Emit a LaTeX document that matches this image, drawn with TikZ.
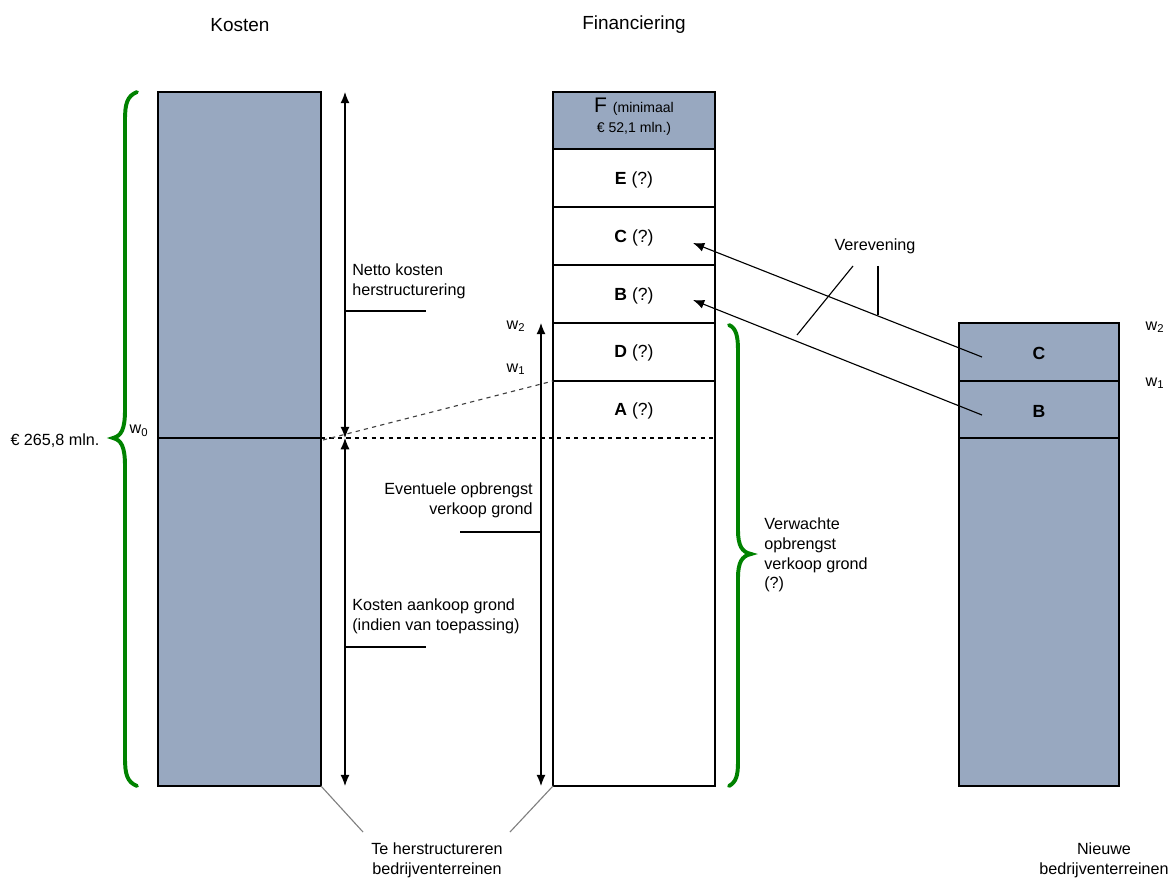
\documentclass[tikz,border=0pt]{standalone}
\usepackage{fontspec}
\setmainfont{Liberation Sans}
\usetikzlibrary{arrows.meta}

\definecolor{kostblauw}{RGB}{152,168,192}
\definecolor{haakgroen}{RGB}{0,130,0}

\newcommand{\tekst}{\fontsize{11.5}{14}\selectfont}

\tikzset{
  lijn/.style={line width=0.8pt},
  grijslijn/.style={line width=0.8pt, gray},
  pijl/.style={line width=0.8pt, -{Latex[length=8pt,width=6.5pt]}},
  dubbelpijl/.style={line width=0.8pt, {Latex[length=8pt,width=6.5pt]}-{Latex[length=8pt,width=6.5pt]}},
  haak/.style={line width=2.8pt, haakgroen, line cap=round},
  kop/.style={font=\fontsize{13.5}{16}\selectfont, inner sep=0pt},
  lbl/.style={font=\tekst, inner sep=0pt},
  rij/.style={font=\fontsize{12.5}{15}\selectfont, inner sep=0pt},
  wlbl/.style={font=\fontsize{11.5}{13}\selectfont, inner sep=0pt}
}

\begin{document}
\begin{tikzpicture}[x=0.025cm,y=-0.025cm]
    \useasboundingbox (0,0) rectangle (1170,879);

    % kopjes
    \node[kop] (kopK) at (240,25) {Kosten};
    \node[kop] (kopF) at (634,25) {Financiering};

    % kosten
    \draw[lijn,fill=kostblauw] (158,92) rectangle (321,786);
    \draw[lijn] (158,438) -- (321,438);

    % financiering
    \draw[lijn,fill=kostblauw] (553,92) rectangle (715,149);
    \draw[lijn] (553,149) rectangle (715,786);
    \draw[lijn] (553,207) -- (715,207);
    \draw[lijn] (553,265) -- (715,265);
    \draw[lijn] (553,323) -- (715,323);
    \draw[lijn] (553,381) -- (715,381);
    \draw[lijn,dashed] (321,438) -- (715,438);

    \node[rij,align=center] (rijF) at (634,117) {\fontsize{15}{15}\selectfont F {\fontsize{10}{12}\selectfont(minimaal}\\[-1pt]{\fontsize{10}{12}\selectfont € 52,1 mln.)}};
    \node[rij] (rijE) at (634,180) {\textbf{E} (?)};
    \node[rij] (rijC) at (634,238) {\textbf{C} (?)};
    \node[rij] (rijB) at (634,296) {\textbf{B} (?)};
    \node[rij] (rijD) at (634,353) {\textbf{D} (?)};
    \node[rij] (rijA) at (634,411) {\textbf{A} (?)};

    % nieuwe terreinen
    \draw[lijn,fill=kostblauw] (959,323) rectangle (1119,786);
    \draw[lijn] (959,381) -- (1119,381);
    \draw[lijn] (959,438) -- (1119,438);
    \node[rij] (nieuwC) at (1039,353) {\textbf{C}};
    \node[rij] (nieuwB) at (1039,411) {\textbf{B}};

    % maatpijlen kosten
    \coordinate (kTop) at (345,92);
    \coordinate (kMid) at (345,438);
    \coordinate (kBot) at (345,786);
    \draw[dubbelpijl] (kTop) -- (kMid);
    \draw[dubbelpijl] (kMid) -- (kBot);
    \coordinate (nettoT) at (426,311);
    \coordinate (aankoopT) at (426,647);
    \draw[lijn] (kTop |- nettoT) -- (nettoT);
    \draw[lijn] (kTop |- aankoopT) -- (aankoopT);
    \node[lbl,anchor=west,align=left] (netto) at (352,281) {Netto kosten\\herstructurering};
    \node[lbl,anchor=west,align=left] (aankoop) at (352,616) {Kosten aankoop grond\\(indien van toepassing)};

    % maatpijl opbrengst
    \coordinate (fTop) at (541,323);
    \coordinate (fBot) at (541,786);
    \draw[dubbelpijl] (fBot) -- (fTop);
    \coordinate (eventT) at (460,532);
    \draw[lijn] (eventT) -- (fTop |- eventT);
    \node[lbl,anchor=east,align=right] (event) at (533,500) {Eventuele opbrengst\\verkoop grond};

    % w-labels
    \node[wlbl] (w0) at (139,431) {w\textsubscript{0}};
    \node[wlbl] (fw2) at (516,326) {w\textsubscript{2}};
    \node[wlbl] (fw1) at (516,369) {w\textsubscript{1}};
    \node[wlbl] (nw2) at (1155,327) {w\textsubscript{2}};
    \node[wlbl] (nw1) at (1155,383) {w\textsubscript{1}};

    % stippellijn w0 - w1
    \coordinate (dashL) at (323,440);
    \coordinate (dashR) at (553,381);
    \draw[grijslijn,dashed,darkgray] (dashL) -- (dashR);

    % accolades
    \draw[haak] (137,92) .. controls (127,96) and (125,104) .. (125,120) -- (125,410)
        .. controls (125,430) and (121,436) .. (113,438)
        .. controls (121,440) and (125,446) .. (125,466) -- (125,758)
        .. controls (125,774) and (127,782) .. (137,786);
    \node[lbl] (totaal) at (55,441) {€ 265,8 mln.};

    \draw[haak] (729,325) .. controls (736,328) and (738,336) .. (738,350) -- (738,530)
        .. controls (738,546) and (742,552) .. (751,554)
        .. controls (742,556) and (738,562) .. (738,578) -- (738,762)
        .. controls (738,776) and (736,782) .. (729,786);
    \node[lbl,anchor=west,align=left] (verwacht) at (764,555) {Verwachte\\opbrengst\\verkoop grond\\(?)};

    % verevening
    \coordinate (vanC) at (982,357);
    \coordinate (naarC) at (693,243);
    \coordinate (vanB) at (982,415);
    \coordinate (naarB) at (693,300);
    \draw[pijl] (vanC) -- (naarC);
    \draw[pijl] (vanB) -- (naarB);
    \node[lbl] (vereven) at (875,246) {Verevening};
    \coordinate (vv1) at (797,335);
    \coordinate (vv2) at (878,315);
    \draw[lijn] (853,266) -- (vv1);
    \draw[lijn] (878,266) -- (vv2);

    % onderschriften
    \node[lbl,align=center] (teHerstr) at (437,860) {Te herstructureren\\bedrijventerreinen};
    \node[lbl,align=center] (nieuw) at (1104,860) {Nieuwe\\bedrijventerreinen};
    \draw[grijslijn] (321,786) -- (363,832);
    \draw[grijslijn] (553,786) -- (510,832);
\end{tikzpicture}
\end{document}
